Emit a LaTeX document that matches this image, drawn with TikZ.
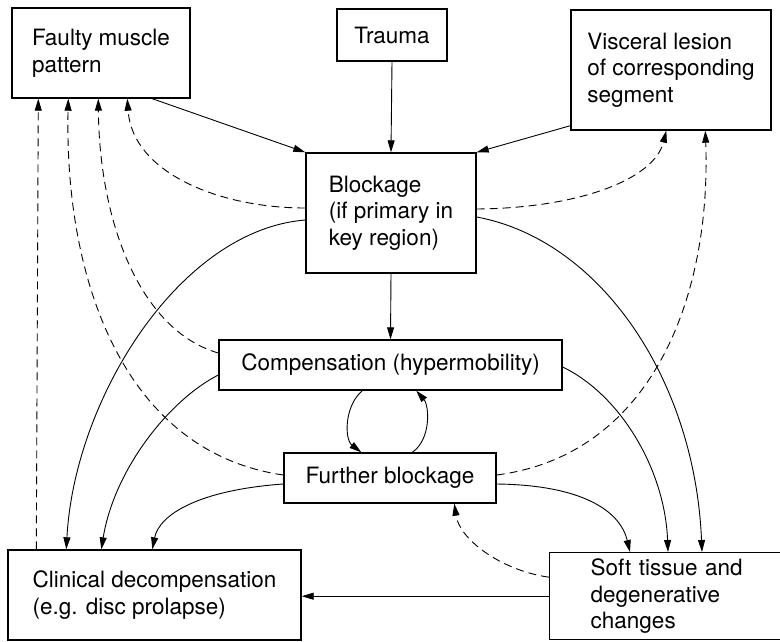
\documentclass[tikz,border=0pt]{standalone}
\usepackage{fontspec}
\setmainfont{TeX Gyre Heros}
\usetikzlibrary{calc}
\usetikzlibrary{arrows.meta}

\begin{document}
\begin{tikzpicture}[x=1pt,y=-1pt,
    box/.style={draw=black, line width=1.4pt, align=left, inner sep=0pt,
      font=\fontsize{22.5}{26.5}\selectfont},
    link/.style={line width=0.9pt, -{Triangle[length=12pt,width=7pt]}},
    hint/.style={link, dash pattern=on 8pt off 5pt}]
\clip (0,0) rectangle (780,641);
\fill[white] (0,0) rectangle (780,641);
                \node[box, minimum width=178pt, minimum height=90pt] (fault) at (101,53) {Faulty muscle\\pattern};
\node[box, minimum width=110pt, minimum height=52pt] (trauma) at (392,35) {Trauma};
\node[box, minimum width=200pt, minimum height=120pt] (visc) at (671,70) {Visceral lesion\\of corresponding\\segment};
\node[box, minimum width=170pt, minimum height=120pt] (block) at (391,213) {Blockage\\(if primary in\\key region)};
\node[box, minimum width=343pt, minimum height=50pt] (comp) at (390.5,365) {Compensation (hypermobility)};
\node[box, minimum width=212pt, minimum height=50pt] (further) at (390,478) {Further blockage};
\node[box, minimum width=293pt, minimum height=90pt] (clin) at (154.5,595) {Clinical decompensation\\(e.g. disc prolapse)};
\node[box, text width=170pt, inner xsep=41pt, minimum height=87pt, anchor=north west] (soft) at (549,552) {Soft tissue and\\degenerative\\changes};
\draw[link] ($(fault.south west)+(141,0)$) -- (block.north west);
\draw[link] (trauma.south) -- (block.north);
\draw[link] ($(visc.south west)+(0,-5)$) -- (block.north east);
\draw[link] (block.south) -- (comp.north);
\draw[link] (soft.west) -- (soft.west -| clin.east);
\draw[hint] ($(block.west)+(0,-5)$) .. controls +(-86,0) and +(5,74) .. ($(fault.south west)+(116,0)$);
\draw[hint] ($(comp.west)+(0,-12)$) .. controls +(-79,-23) and +(1,122) .. ($(fault.south west)+(87,0)$);
\draw[hint] ($(further.west)+(0,-3)$) .. controls +(-159,-23) and +(-4,182) .. ($(fault.south west)+(57,0)$);
\draw[hint] ($(clin.north west)+(29,0)$) -- ($(fault.south west)+(27,0)$);
\draw[link] ($(block.west)+(0,7)$) .. controls +(-126,10) and +(8,-150) .. ($(clin.north west)+(59,0)$);
\draw[link] ($(comp.west)+(0,10)$) .. controls +(-49,25) and +(13,-80) .. ($(clin.north west)+(94,0)$);
\draw[link] ($(further.west)+(0,6)$) .. controls +(-84,6) and +(7,-35) .. ($(clin.north west)+(145,0)$);
\draw[hint] ($(block.east)+(0,-4)$) .. controls +(104,-1) and +(-12,48) .. ($(visc.south west)+(96,0)$);
\draw[hint] ($(further.east)+(0,-3)$) .. controls +(154,-20) and +(6,168) .. ($(visc.south west)+(135,0)$);
\draw[link] ($(block.east)+(0,4)$) .. controls +(124,23) and +(-7,-172) .. ($(soft.north west)+(153,0)$);
\draw[link] ($(comp.east)+(0,2)$) .. controls +(58,28) and +(-3,-82) .. ($(soft.north west)+(119,0)$);
\draw[link] ($(further.east)+(0,6)$) .. controls +(84,1) and +(-10,-42) .. ($(soft.north west)+(81,0)$);
\draw[hint] ($(soft.west)+(0,-19)$) .. controls +(-49,-7) and +(5,35) .. ($(further.south west)+(171,0)$);
\draw[link] ($(comp.south west)+(144,0)$) .. controls +(-18,15) and +(-17,-13) .. ($(further.north west)+(78,0)$);
\draw[link] ($(further.north west)+(129,0)$) .. controls +(19,-13) and +(13,15) .. ($(comp.south west)+(198,0)$);
            \end{tikzpicture}
\end{document}
